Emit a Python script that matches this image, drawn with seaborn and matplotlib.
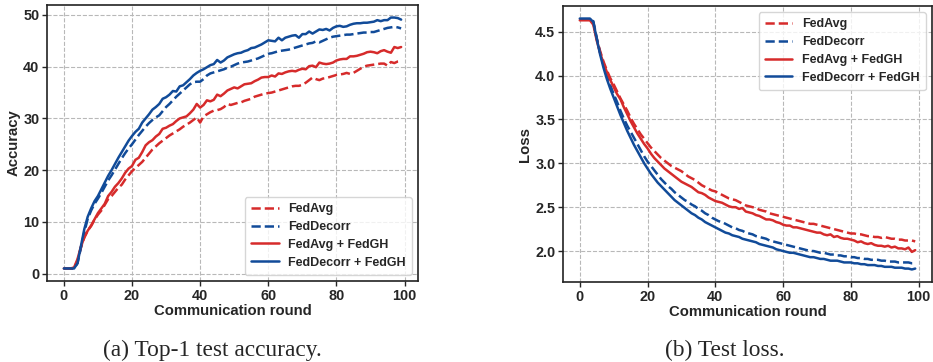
import numpy as np
import pandas as pd
import seaborn as sns
import matplotlib
matplotlib.use("Agg")
import matplotlib.pyplot as plt

rounds = list(range(100))

acc_fedavg = [1.0, 1.0, 1.0, 1.0, 2.5, 5.0, 7.0, 8.3, 9.2, 10.4,
              11.4, 12.2, 13.3, 14.4, 15.0, 15.8, 16.6, 17.2, 18.2, 19.0,
              19.8, 20.4, 21.0, 21.6, 22.4, 23.2, 24.0, 24.6, 25.2, 25.7,
              26.2, 26.7, 27.1, 27.5, 27.9, 28.4, 28.8, 29.2, 29.7, 30.2,
              29.2, 30.4, 30.8, 31.2, 31.5, 31.6, 31.8, 32.2, 32.8, 32.6,
              32.8, 33.0, 33.1, 33.4, 33.6, 33.8, 34.2, 34.4, 34.6, 34.8,
              34.9, 35.0, 35.2, 35.4, 35.6, 35.8, 36.0, 36.2, 36.3, 36.3,
              36.5, 36.9, 37.4, 37.9, 37.6, 37.4, 37.7, 37.8, 38.0, 38.2,
              38.4, 38.5, 38.6, 38.8, 38.6, 38.8, 39.2, 39.6, 40.0, 40.2,
              40.3, 40.4, 40.5, 40.6, 40.6, 40.2, 40.9, 40.7, 41.0, 41.1]

acc_feddecorr = [1.0, 1.0, 1.0, 1.0, 2.0, 5.0, 8.0, 10.6, 12.2, 13.5,
                 14.5, 15.6, 16.8, 18.0, 19.0, 20.1, 21.2, 22.3, 23.3, 24.2,
                 25.0, 25.9, 26.8, 27.6, 28.4, 29.1, 29.7, 30.2, 30.6, 31.4,
                 32.2, 32.8, 33.5, 34.2, 34.8, 35.4, 36.0, 36.6, 37.0, 37.1,
                 37.1, 37.6, 38.3, 38.7, 38.9, 39.1, 39.3, 39.5, 39.8, 40.0,
                 40.3, 40.6, 40.8, 40.9, 41.0, 41.2, 41.4, 41.6, 41.9, 42.2,
                 42.5, 42.6, 42.8, 43.0, 43.1, 43.2, 43.3, 43.5, 43.7, 43.9,
                 44.1, 44.3, 44.5, 44.6, 44.9, 44.7, 45.0, 45.3, 45.6, 45.8,
                 45.9, 46.0, 46.1, 46.2, 46.2, 46.3, 46.4, 46.5, 46.6, 46.6,
                 46.7, 46.7, 46.9, 47.1, 47.3, 47.5, 47.6, 47.7, 47.6, 47.4]

acc_fedavg_gh = [1.0, 1.0, 1.0, 1.2, 2.8, 5.2, 7.0, 8.3, 9.3, 10.5,
                 11.7, 12.6, 13.5, 15.0, 15.8, 16.8, 17.5, 18.4, 19.5, 20.3,
                 20.8, 22.0, 22.4, 23.5, 24.8, 25.4, 25.8, 26.5, 27.0, 28.0,
                 28.2, 28.6, 28.9, 29.5, 30.0, 30.2, 30.4, 31.0, 31.7, 32.8,
                 32.1, 32.6, 33.5, 33.3, 33.6, 34.6, 34.3, 34.8, 35.4, 35.7,
                 36.0, 35.8, 36.2, 36.6, 36.7, 36.8, 37.2, 37.5, 37.9, 38.0,
                 38.0, 38.3, 38.1, 38.7, 38.6, 38.9, 39.1, 39.2, 39.1, 39.4,
                 39.6, 39.5, 40.1, 40.2, 39.9, 40.8, 40.6, 40.5, 40.6, 40.8,
                 41.2, 41.4, 41.5, 41.5, 42.0, 42.0, 42.1, 42.3, 42.5, 42.8,
                 42.9, 42.8, 42.6, 43.0, 43.2, 42.9, 42.7, 43.8, 43.6, 43.8]

acc_feddecorr_gh = [1.0, 1.0, 1.0, 1.0, 2.0, 5.3, 8.6, 11.0, 12.6, 14.0,
                    15.0, 16.3, 17.6, 18.9, 20.0, 21.2, 22.4, 23.5, 24.6, 25.7,
                    26.6, 27.4, 28.0, 29.2, 30.0, 30.8, 31.7, 32.2, 32.8, 33.8,
                    34.1, 34.6, 35.3, 35.2, 36.2, 36.4, 37.0, 37.6, 38.3, 38.8,
                    39.2, 39.5, 39.9, 40.3, 40.5, 41.3, 40.8, 41.2, 41.8, 42.1,
                    42.4, 42.6, 42.7, 43.0, 43.2, 43.6, 43.7, 44.0, 44.3, 44.7,
                    45.1, 45.0, 44.9, 45.6, 45.1, 45.6, 45.8, 46.0, 46.1, 45.6,
                    46.3, 46.3, 46.8, 46.4, 46.8, 47.2, 47.1, 47.3, 47.0, 47.5,
                    47.8, 47.9, 47.7, 47.8, 48.1, 48.3, 48.4, 48.4, 48.5, 48.5,
                    48.6, 48.7, 49.0, 48.8, 49.0, 49.0, 49.5, 49.5, 49.4, 49.1]

loss_fedavg = [4.64, 4.64, 4.64, 4.64, 4.60, 4.42, 4.28, 4.16, 4.06, 3.97,
               3.90, 3.82, 3.74, 3.67, 3.60, 3.52, 3.45, 3.39, 3.33, 3.28,
               3.23, 3.18, 3.14, 3.10, 3.06, 3.03, 3.00, 2.97, 2.95, 2.93,
               2.91, 2.88, 2.85, 2.83, 2.81, 2.78, 2.75, 2.73, 2.71, 2.69,
               2.68, 2.66, 2.64, 2.62, 2.60, 2.59, 2.58, 2.56, 2.54, 2.52,
               2.51, 2.50, 2.49, 2.47, 2.46, 2.45, 2.43, 2.42, 2.41, 2.40,
               2.39, 2.38, 2.37, 2.36, 2.35, 2.34, 2.33, 2.32, 2.31, 2.31,
               2.30, 2.29, 2.28, 2.27, 2.26, 2.25, 2.24, 2.23, 2.22, 2.21,
               2.20, 2.20, 2.19, 2.19, 2.18, 2.17, 2.17, 2.16, 2.16, 2.15,
               2.16, 2.15, 2.14, 2.14, 2.13, 2.13, 2.12, 2.12, 2.12, 2.11]

loss_fedavg_gh = [4.63, 4.63, 4.63, 4.63, 4.58, 4.40, 4.26, 4.14, 4.04, 3.95,
                  3.87, 3.79, 3.73, 3.64, 3.56, 3.48, 3.41, 3.34, 3.28, 3.22,
                  3.17, 3.11, 3.06, 3.02, 2.98, 2.94, 2.91, 2.88, 2.85, 2.82,
                  2.79, 2.77, 2.75, 2.73, 2.70, 2.67, 2.66, 2.64, 2.61, 2.59,
                  2.57, 2.56, 2.55, 2.53, 2.51, 2.50, 2.50, 2.48, 2.49, 2.45,
                  2.44, 2.43, 2.41, 2.40, 2.38, 2.36, 2.36, 2.35, 2.33, 2.32,
                  2.30, 2.29, 2.29, 2.27, 2.27, 2.26, 2.25, 2.24, 2.23, 2.22,
                  2.21, 2.21, 2.19, 2.18, 2.19, 2.16, 2.17, 2.15, 2.14, 2.14,
                  2.13, 2.12, 2.10, 2.11, 2.09, 2.08, 2.09, 2.07, 2.06, 2.06,
                  2.05, 2.06, 2.04, 2.05, 2.03, 2.03, 2.02, 2.04, 1.99, 2.01]

loss_feddecorr = [4.64, 4.64, 4.64, 4.64, 4.62, 4.43, 4.26, 4.12, 4.00, 3.89,
                  3.79, 3.70, 3.60, 3.51, 3.43, 3.36, 3.29, 3.22, 3.15, 3.08,
                  3.02, 2.97, 2.92, 2.87, 2.82, 2.78, 2.74, 2.71, 2.67, 2.64,
                  2.61, 2.58, 2.56, 2.53, 2.51, 2.48, 2.46, 2.43, 2.41, 2.38,
                  2.36, 2.34, 2.33, 2.31, 2.29, 2.27, 2.26, 2.24, 2.23, 2.21,
                  2.20, 2.19, 2.17, 2.16, 2.15, 2.14, 2.12, 2.11, 2.10, 2.09,
                  2.08, 2.07, 2.06, 2.05, 2.04, 2.03, 2.02, 2.01, 2.00, 2.00,
                  1.99, 1.98, 1.98, 1.97, 1.96, 1.96, 1.95, 1.95, 1.94, 1.94,
                  1.93, 1.93, 1.92, 1.92, 1.91, 1.91, 1.90, 1.90, 1.90, 1.89,
                  1.89, 1.88, 1.88, 1.88, 1.87, 1.87, 1.87, 1.87, 1.86, 1.86]

loss_feddecorr_gh = [4.65, 4.65, 4.65, 4.65, 4.61, 4.42, 4.24, 4.09, 3.96, 3.85,
                     3.75, 3.65, 3.55, 3.46, 3.37, 3.29, 3.21, 3.14, 3.07, 3.00,
                     2.94, 2.88, 2.83, 2.78, 2.74, 2.70, 2.66, 2.62, 2.58, 2.55,
                     2.52, 2.49, 2.46, 2.43, 2.41, 2.38, 2.36, 2.33, 2.31, 2.29,
                     2.27, 2.25, 2.23, 2.21, 2.20, 2.18, 2.17, 2.16, 2.14, 2.13,
                     2.12, 2.11, 2.10, 2.08, 2.07, 2.06, 2.05, 2.04, 2.02, 2.01,
                     2.00, 1.99, 1.98, 1.98, 1.97, 1.96, 1.95, 1.94, 1.93, 1.93,
                     1.92, 1.91, 1.91, 1.90, 1.89, 1.89, 1.89, 1.88, 1.87, 1.87,
                     1.87, 1.86, 1.86, 1.85, 1.85, 1.84, 1.84, 1.84, 1.83, 1.83,
                     1.82, 1.82, 1.82, 1.81, 1.81, 1.81, 1.80, 1.80, 1.79, 1.80]

labels = ["FedAvg", "FedDecorr", "FedAvg + FedGH", "FedDecorr + FedGH"]
RED = "#D62B2B"
BLUE = "#114B99"
colors = [RED, BLUE, RED, BLUE]
styles = ["--", "--", "-", "-"]

sns.set_style("ticks")
plt.rcParams["font.family"] = ["Liberation Sans", "DejaVu Sans"]
plt.rcParams["font.weight"] = "bold"

fig = plt.figure(figsize=(9.33, 3.62), dpi=100)
ax1 = fig.add_axes([47 / 933, 1 - 281 / 362, 371 / 933, 276 / 362])
ax2 = fig.add_axes([563 / 933, 1 - 282 / 362, 369 / 933, 276 / 362])

acc_series = [acc_fedavg, acc_feddecorr, acc_fedavg_gh, acc_feddecorr_gh]
loss_series = [loss_fedavg, loss_feddecorr, loss_fedavg_gh, loss_feddecorr_gh]

for ax, series, ylab, loc in [(ax1, acc_series, "Accuracy", "lower right"),
                              (ax2, loss_series, "Loss", "upper right")]:
    for vals, lab, c, ls in zip(series, labels, colors, styles):
        sns.lineplot(x=rounds, y=vals, ax=ax, color=c, linestyle=ls,
                     linewidth=1.8, label=lab)
    ax.grid(True, linestyle="--", color="#b8b8b8", linewidth=0.8)
    ax.set_axisbelow(True)
    ax.set_xlabel("Communication round", fontsize=10.7, fontweight="bold", labelpad=1)
    ax.set_ylabel(ylab, fontsize=10.7, fontweight="bold", labelpad=2)
    ax.tick_params(labelsize=10.4, length=3.5, width=1, pad=2)
    for t in ax.get_xticklabels() + ax.get_yticklabels():
        t.set_fontweight("bold")
    for s in ax.spines.values():
        s.set_linewidth(1.2)
        s.set_color("#222222")
    ax.set_xticks([0, 20, 40, 60, 80, 100])
    leg = ax.legend(loc=loc, prop={"weight": "bold", "size": 9},
                    handlelength=2.2, labelspacing=0.46, borderpad=0.5,
                    handletextpad=0.75, frameon=True, fancybox=True)
    leg.get_frame().set_edgecolor("#cccccc")

ax1.set_yticks([0, 10, 20, 30, 40, 50])
ax2.set_yticks([2.0, 2.5, 3.0, 3.5, 4.0, 4.5])

cap_font = dict(family=["Liberation Serif", "DejaVu Serif"], fontsize=16.8, fontweight="normal")
fig.text(212 / 933, 1 - 350 / 362, "(a) Top-1 test accuracy.",
         ha="center", va="center", **cap_font)
fig.text(725 / 933, 1 - 350 / 362, "(b) Test loss.",
         ha="center", va="center", **cap_font)

fig.savefig("out.png", dpi=100)
